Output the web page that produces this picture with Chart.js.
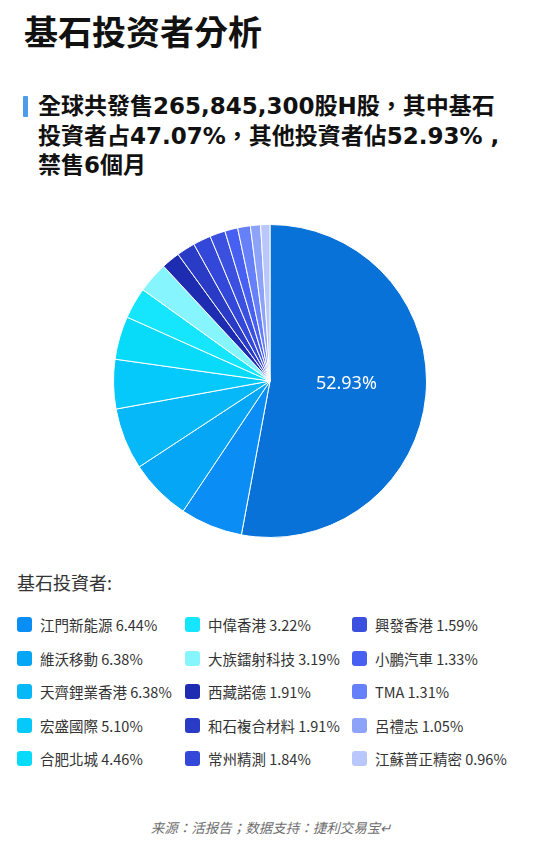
<!DOCTYPE html>
<html lang="zh-Hant">
<head>
    <meta charset="UTF-8">
    <title>基石投资者分析</title>
    <script src="https://cdn.jsdelivr.net/npm/chart.js"></script>
    <style>
        body {
            margin: 0;
            width: 542px;
            height: 850px;
            position: relative;
            background: #fff;
            font-family: "Noto Sans CJK TC", "Noto Sans", sans-serif;
            color: #111;
            overflow: hidden;
        }
        h1 {
            position: absolute;
            left: 24px;
            top: 6px;
            margin: 0;
            font-size: 34px;
            font-weight: bold;
            line-height: 50px;
        }
        .sub {
            position: absolute;
            left: 38px;
            top: 92px;
            margin: 0;
            font-family: "DejaVu Sans", "Noto Sans CJK TC", sans-serif;
            font-size: 23px;
            font-weight: bold;
            line-height: 29.5px;
        }
        .bar {
            position: absolute;
            left: 23px;
            top: 96px;
            width: 5px;
            height: 21px;
            background: #4d9be9;
            border-radius: 1px;
        }
        .pie {
            position: absolute;
            left: 113px;
            top: 224px;
            width: 314px;
            height: 314px;
        }
        .lgtitle {
            position: absolute;
            left: 17px;
            top: 568px;
            font-size: 18px;
            color: #333;
            line-height: 28px;
        }
        #legend {
            position: absolute;
            left: 17px;
            top: 608px;
            display: grid;
            grid-template-rows: repeat(5, 33.5px);
            grid-template-columns: 168px 167px 180px;
            grid-auto-flow: column;
            font-size: 14.5px;
            color: #333;
        }
        #legend .item {
            display: flex;
            align-items: center;
            white-space: nowrap;
        }
        #legend .sw {
            width: 15px;
            height: 15px;
            border-radius: 3px;
            margin-right: 8px;
        }
        .src {
            position: absolute;
            left: 0;
            width: 542px;
            top: 817px;
            text-align: center;
            font-family: "Noto Sans CJK SC", sans-serif;
            font-style: italic;
            font-size: 13.5px;
            color: #6e6e6e;
        }
    </style>
</head>
<body>
    <h1>基石投资者分析</h1>
    <div class="bar"></div>
    <p class="sub">全球共發售265,845,300股H股，其中基石<br>投資者占47.07%，其他投資者佔52.93% ,<br>禁售6個月</p>
    <div class="pie"><canvas id="myChart" width="314" height="314"></canvas></div>
    <div class="lgtitle">基石投資者:</div>
    <div id="legend"></div>
    <div class="src">来源：活报告；数据支持：捷利交易宝↵</div>
    <script>
        const othersLabel = '其他投資者';
        const othersValue = 52.93;
        const investors = ['江門新能源', '維沃移動', '天齊鋰業香港', '宏盛國際', '合肥北城',
            '中偉香港', '大族鐳射科技', '西藏諾德', '和石複合材料', '常州精測',
            '興發香港', '小鵬汽車', 'TMA', '呂禮志', '江蘇普正精密'];
        const shares = [6.44, 6.38, 6.38, 5.10, 4.46, 3.22, 3.19, 1.91, 1.91, 1.84, 1.59, 1.33, 1.31, 1.05, 0.96];

        const othersColor = '#0872d9';
        const colors = ['#0a8ef6', '#06a6f6', '#07b8f8', '#06c9fb', '#08dbfa',
            '#16e6fd', '#86f5fd', '#1e2cb2', '#2a3cc6', '#3347d8',
            '#3c50e0', '#4760f1', '#6680f9', '#8da2f9', '#b9c7fd'];

        // legend
        const legend = document.getElementById('legend');
        investors.forEach((name, i) => {
            const item = document.createElement('div');
            item.className = 'item';
            item.innerHTML = '<span class="sw" style="background:' + colors[i] + '"></span>' +
                name + ' ' + shares[i].toFixed(2) + '%';
            legend.appendChild(item);
        });

        // label only on the big slice
        const bigLabel = {
            id: 'bigLabel',
            afterDatasetsDraw(chart) {
                const arc = chart.getDatasetMeta(0).data[0];
                const mid = (arc.startAngle + arc.endAngle) / 2;
                const r = arc.outerRadius * 0.49;
                const ctx = chart.ctx;
                ctx.save();
                ctx.fillStyle = '#fff';
                ctx.font = '18px "Noto Sans", sans-serif';
                ctx.textAlign = 'center';
                ctx.textBaseline = 'middle';
                ctx.fillText(othersValue.toFixed(2) + '%', arc.x + Math.cos(mid) * r, arc.y + Math.sin(mid) * r - 4);
                ctx.restore();
            }
        };

        const ctx = document.getElementById('myChart').getContext('2d');
        new Chart(ctx, {
            type: 'pie',
            data: {
                labels: [othersLabel].concat(investors),
                datasets: [{
                    data: [othersValue].concat(shares),
                    backgroundColor: [othersColor].concat(colors),
                    borderColor: '#fff',
                    borderWidth: 1
                }]
            },
            options: {
                responsive: false,
                animation: false,
                layout: { padding: 0 },
                plugins: {
                    legend: { display: false },
                    tooltip: { enabled: false }
                }
            },
            plugins: [bigLabel]
        });
    </script>
</body>
</html>
